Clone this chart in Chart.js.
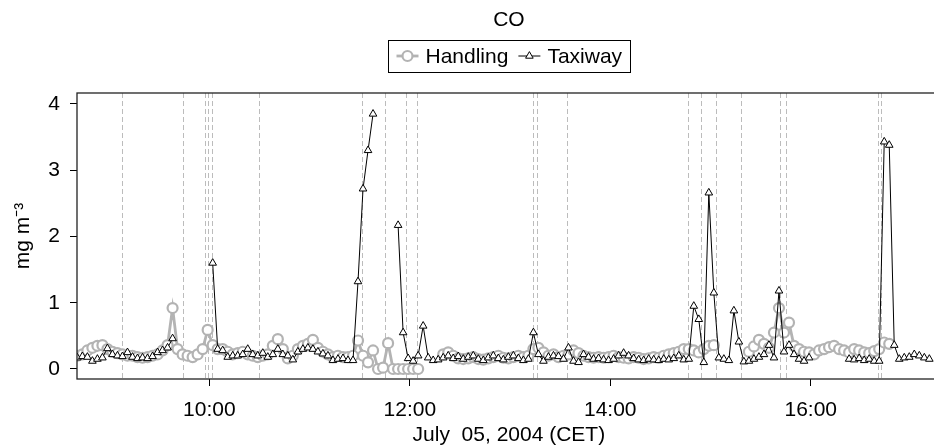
<!DOCTYPE html>
<html>
<head>
<meta charset="utf-8">
<script src="https://cdn.jsdelivr.net/npm/chart.js@4.4.1/dist/chart.umd.min.js"></script>
<style>
html,body{margin:0;padding:0;background:#fff;overflow:hidden;}
#wrap{position:relative;width:948px;height:446px;}
</style>
</head>
<body>
<div id="wrap"><canvas id="c"></canvas></div>
<script>
// ---------- data ----------
const chartTitle = 'CO';
const xAxisTitle = 'July  05, 2004 (CET)';
const yAxisTitle = 'mg m\u207B\u00B3';
const seriesNames = ['Handling', 'Taxiway'];

const times = [
  "8:41","8:44","8:47","8:50","8:53","8:56","8:59",
  "9:02","9:05","9:08","9:11","9:14","9:17","9:20","9:23","9:26","9:29","9:32","9:35","9:38","9:41","9:44","9:47","9:50","9:53","9:56","9:59",
  "10:02","10:05","10:08","10:11","10:14","10:17","10:20","10:23","10:26","10:29","10:32","10:35","10:38","10:41","10:44","10:47","10:50","10:53","10:56","10:59",
  "11:02","11:05","11:08","11:11","11:14","11:17","11:20","11:23","11:26","11:29","11:32","11:35","11:38","11:41","11:44","11:47","11:50","11:53","11:56","11:59",
  "12:02","12:05","12:08","12:11","12:14","12:17","12:20","12:23","12:26","12:29","12:32","12:35","12:38","12:41","12:44","12:47","12:50","12:53","12:56","12:59",
  "13:02","13:05","13:08","13:11","13:14","13:17","13:20","13:23","13:26","13:29","13:32","13:35","13:38","13:41","13:44","13:47","13:50","13:53","13:56","13:59",
  "14:02","14:05","14:08","14:11","14:14","14:17","14:20","14:23","14:26","14:29","14:32","14:35","14:38","14:41","14:44","14:47","14:50","14:53","14:56","14:59",
  "15:02","15:05","15:08","15:11","15:14","15:17","15:20","15:23","15:26","15:29","15:32","15:35","15:38","15:41","15:44","15:47","15:50","15:53","15:56","15:59",
  "16:02","16:05","16:08","16:11","16:14","16:17","16:20","16:23","16:26","16:29","16:32","16:35","16:38","16:41","16:44","16:47","16:50","16:53","16:56","16:59",
  "17:02","17:05","17:08","17:11"
];

const handling = [
  0.20,0.22,0.28,0.32,0.35,0.36,0.30,0.26,0.24,0.22,
  0.20,0.20,0.18,0.17,0.18,0.20,0.22,0.28,0.36,0.92,
  0.30,0.22,0.20,0.18,0.22,0.30,0.59,0.36,0.30,0.30,
  0.26,0.22,0.24,0.26,0.22,0.20,0.18,0.20,0.22,0.35,
  0.45,0.30,0.16,0.20,0.30,0.35,0.38,0.44,0.32,0.26,
  0.22,0.18,0.20,0.18,0.18,0.20,0.43,0.20,0.10,0.28,
  0.00,0.02,0.39,0.00,0.00,0.00,0.00,0.00,0.00,null,
  null,null,null,0.22,0.25,0.20,0.16,0.15,0.16,0.18,
  0.15,0.14,0.16,0.18,0.20,0.17,0.16,0.18,0.20,0.18,
  0.20,0.30,0.32,0.25,0.20,0.22,0.18,0.20,0.22,0.28,
  0.24,0.20,0.18,0.17,0.18,0.17,0.18,0.20,0.18,0.17,
  0.16,0.18,0.17,0.15,0.16,0.18,0.17,0.20,0.22,0.24,
  0.26,0.30,0.30,0.28,0.25,0.30,0.35,0.36,null,null,
  null,null,null,null,0.26,0.34,0.44,0.38,0.32,0.55,
  0.92,0.55,0.70,0.35,0.30,0.26,0.25,0.22,0.28,0.30,
  0.33,0.35,0.30,0.28,0.25,0.30,0.28,0.25,0.24,0.27,
  0.30,0.40,0.38,null,null,null,null,null,null,null,
  null
];

const taxiway = [
  0.17,0.19,0.18,0.12,0.15,0.17,0.31,0.22,0.20,0.19,
  0.25,0.18,0.16,0.17,0.16,0.19,0.25,0.28,0.32,0.46,
  null,null,null,null,null,null,null,1.60,0.30,0.28,
  0.18,0.20,0.20,0.22,0.30,0.22,0.20,0.24,0.18,0.22,
  0.30,0.22,0.20,0.14,0.26,0.30,0.32,0.30,0.26,0.23,
  0.20,0.13,0.15,0.16,0.13,0.13,1.32,2.72,3.30,3.85,
  null,null,null,null,2.17,0.55,0.16,0.12,0.20,0.65,
  0.17,0.13,0.14,0.17,0.20,0.16,0.19,0.15,0.18,0.20,
  0.15,0.13,0.17,0.20,0.16,0.14,0.18,0.20,0.16,0.13,
  0.15,0.55,0.22,0.12,0.18,0.20,0.19,0.15,0.32,0.12,
  0.10,0.22,0.18,0.15,0.16,0.14,0.13,0.15,0.20,0.24,
  0.20,0.16,0.14,0.13,0.15,0.14,0.13,0.15,0.14,0.16,
  0.20,0.14,0.15,0.95,0.75,0.10,2.66,1.15,0.17,0.15,
  0.13,0.88,0.41,0.11,0.12,0.15,0.18,0.22,0.36,0.17,
  1.18,0.26,0.36,0.22,0.15,0.12,0.17,null,null,null,
  null,null,null,null,0.15,0.14,0.16,0.13,0.15,0.12,
  0.12,3.43,3.38,0.36,0.15,0.17,0.18,0.22,0.20,0.17,
  0.15
];

const eventTimes = [
  "9:07:54","9:44:12","9:57:42","9:59:18","10:01:18","10:30:00",
  "11:31:18","11:44:54","11:57:54","12:04:36",
  "13:14:00","13:16:12","13:33:54",
  "14:46:48","14:54:36","15:03:12","15:18:18","15:41:36","15:45:12",
  "16:40:00","16:42:00"
];

const xTickTimes = ["10:00","12:00","14:00","16:00"];
const yTickValues = [0, 1, 2, 3, 4];
const xRange = ["8:40:47", "17:17:52"];
const yRange = [-0.151, 4.166];

// ---------- helpers ----------
const toMin = s => { const p = s.split(':').map(Number); return p[0] * 60 + p[1] + (p[2] || 0) / 60; };
const fmtTime = v => { const h = Math.floor(v / 60), m = Math.round(v - h * 60); return h + ':' + String(m).padStart(2, '0'); };
const FAM = '"Liberation Sans", Arial, Helvetica, sans-serif';
Chart.defaults.font.family = FAM;
Chart.defaults.color = '#000';

const decor = {
  id: 'decor',
  beforeDatasetsDraw(chart) {
    const {ctx, chartArea: a, scales: {x}} = chart;
    ctx.save();
    ctx.beginPath();
    ctx.rect(a.left, a.top, a.right - a.left, a.bottom - a.top);
    ctx.clip();
    ctx.strokeStyle = '#bcbcbc';
    ctx.lineWidth = 1;
    ctx.setLineDash([5, 3]);
    eventTimes.forEach(t => {
      const px = Math.round(x.getPixelForValue(toMin(t))) + 0.5;
      ctx.beginPath();
      ctx.moveTo(px, a.top);
      ctx.lineTo(px, a.bottom);
      ctx.stroke();
    });
    ctx.restore();
  },
  afterDraw(chart) {
    const {ctx, chartArea: a} = chart;
    ctx.save();
    ctx.strokeStyle = '#222';
    ctx.lineWidth = 1.3;
    ctx.strokeRect(a.left, a.top, a.right - a.left, a.bottom - a.top);

    // legend
    const ds = chart.data.datasets;
    ctx.font = '21px ' + FAM;
    const symW = 22, gapSym = 7, gapItem = 10, pad = 8;
    const widths = ds.map(d => ctx.measureText(d.label).width);
    const total = pad * 2 + ds.length * (symW + gapSym) + widths.reduce((s, w) => s + w, 0) + gapItem * (ds.length - 1);
    const cx = (a.left + a.right) / 2, cy = 56;
    const x0 = Math.round(cx - total / 2) + 0.5;
    ctx.strokeStyle = '#000';
    ctx.lineWidth = 1;
    ctx.strokeRect(x0, 40.5, Math.round(total), 32);
    let x = x0 + pad;
    ds.forEach((d, i) => {
      ctx.setLineDash([]);
      ctx.strokeStyle = d.borderColor;
      ctx.lineWidth = d.borderWidth;
      ctx.beginPath();
      ctx.moveTo(x, cy);
      ctx.lineTo(x + symW, cy);
      ctx.stroke();
      ctx.fillStyle = d.pointBackgroundColor;
      ctx.strokeStyle = d.pointBorderColor;
      ctx.lineWidth = d.pointBorderWidth;
      Chart.helpers.drawPoint(ctx, {pointStyle: d.pointStyle, radius: d.pointRadius, rotation: 0, borderWidth: d.pointBorderWidth}, x + symW / 2, cy);
      ctx.fillStyle = '#000';
      ctx.textAlign = 'left';
      ctx.textBaseline = 'middle';
      ctx.fillText(d.label, x + symW + gapSym, cy + 1);
      x += symW + gapSym + widths[i] + gapItem;
    });
    ctx.restore();
  }
};

const tickFont = {family: FAM, size: 21};

new Chart(document.getElementById('c'), {
  type: 'line',
  data: {
    datasets: [
      {
        label: seriesNames[0],
        data: times.map((t, i) => ({x: toMin(t), y: handling[i]})),
        borderColor: '#b3b3b3',
        borderWidth: 2.8,
        pointStyle: 'circle',
        pointRadius: 5,
        pointBorderWidth: 2.2,
        pointBorderColor: '#b3b3b3',
        pointBackgroundColor: '#ffffff',
        spanGaps: false,
        tension: 0,
        order: 1
      },
      {
        label: seriesNames[1],
        data: times.map((t, i) => ({x: toMin(t), y: taxiway[i]})),
        borderColor: '#000000',
        borderWidth: 1,
        pointStyle: 'triangle',
        pointRadius: 4.4,
        pointBorderWidth: 1,
        pointBorderColor: '#000000',
        pointBackgroundColor: '#ffffff',
        spanGaps: false,
        tension: 0,
        order: 0
      }
    ]
  },
  options: {
    responsive: true,
    maintainAspectRatio: false,
    animation: false,
    devicePixelRatio: 1,
    layout: {padding: 0},
    plugins: {
      legend: {display: false},
      tooltip: {enabled: false},
      title: {
        display: true,
        text: chartTitle,
        fullSize: false,
        color: '#000',
        font: {family: FAM, size: 21, weight: 'normal', lineHeight: 1.2},
        padding: {top: 8, bottom: 59.8}
      }
    },
    scales: {
      x: {
        type: 'linear',
        min: toMin(xRange[0]),
        max: toMin(xRange[1]),
        afterBuildTicks: s => { s.ticks = xTickTimes.map(t => ({value: toMin(t)})); },
        afterFit: s => { s.height = 67; },
        grid: {display: true, drawOnChartArea: false, drawTicks: true, tickLength: 7, color: '#000', lineWidth: 1},
        border: {display: false},
        ticks: {color: '#000', font: tickFont, padding: 12, maxRotation: 0, autoSkip: false, callback: v => fmtTime(v)},
        title: {display: true, text: xAxisTitle, color: '#000', font: {family: FAM, size: 21, lineHeight: 1}, padding: {top: 0, bottom: 0}}
      },
      y: {
        type: 'linear',
        min: yRange[0],
        max: yRange[1],
        afterBuildTicks: s => { s.ticks = yTickValues.map(v => ({value: v})); },
        afterFit: s => { s.width = 77; },
        grid: {display: true, drawOnChartArea: false, drawTicks: true, tickLength: 7, color: '#000', lineWidth: 1},
        border: {display: false},
        ticks: {color: '#000', font: tickFont, padding: 10, callback: v => String(v)},
        title: {display: true, text: yAxisTitle, color: '#000', font: {family: FAM, size: 21, lineHeight: 1}, padding: {top: 13, bottom: 0}}
      }
    }
  },
  plugins: [decor]
});
</script>
</body>
</html>
